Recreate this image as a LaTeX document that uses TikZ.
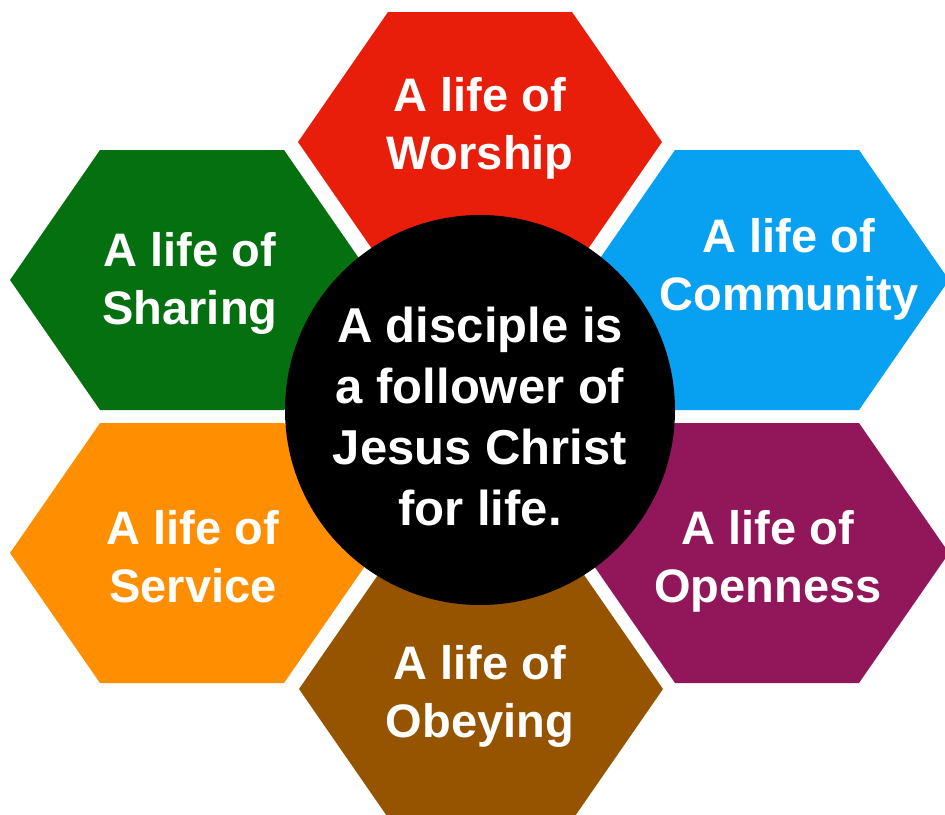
\documentclass[tikz,border=0pt]{standalone}
\usepackage{fontspec}
\setsansfont{Liberation Sans}
\usetikzlibrary{positioning}

\definecolor{worshipred}{RGB}{232,30,10}
\definecolor{sharinggreen}{RGB}{4,112,16}
\definecolor{communityblue}{RGB}{8,160,240}
\definecolor{serviceorange}{RGB}{255,142,0}
\definecolor{opennesspurple}{RGB}{146,22,90}
\definecolor{obeyingbrown}{RGB}{150,84,0}

\tikzset{
  lifetext/.style={text=white, font=\sffamily\bfseries\fontsize{47}{58}\selectfont,
    align=center, inner sep=0pt},
  centretext/.style={text=white, font=\sffamily\bfseries\fontsize{49}{61}\selectfont,
    align=center, inner sep=0pt}
}

\begin{document}
\begin{tikzpicture}[x=1pt,y=-1pt]
            \clip (0,0) rectangle (945,814);
            % Top: Worship
            \fill[worshipred] (298,142) -- ++(90,-130) -- ++(184,0) -- ++(90,130) -- ++(-90,130) -- ++(-184,0) -- cycle;
            % Upper left: Sharing
            \fill[sharinggreen] (10,280) -- ++(90,-130) -- ++(184,0) -- ++(90,130) -- ++(-90,130) -- ++(-184,0) -- cycle;
            % Upper right: Community
            \fill[communityblue] (585,280) -- ++(90,-130) -- ++(184,0) -- ++(90,130) -- ++(-90,130) -- ++(-184,0) -- cycle;
            % Lower left: Service
            \fill[serviceorange] (10,553) -- ++(90,-130) -- ++(184,0) -- ++(90,130) -- ++(-90,130) -- ++(-184,0) -- cycle;
            % Lower right: Openness
            \fill[opennesspurple] (585,553) -- ++(90,-130) -- ++(184,0) -- ++(90,130) -- ++(-90,130) -- ++(-184,0) -- cycle;
            % Bottom: Obeying
            \fill[obeyingbrown] (299,689) -- ++(90,-130) -- ++(184,0) -- ++(90,130) -- ++(-90,130) -- ++(-184,0) -- cycle;
            % Labels
            \node[lifetext] (worship) at (480,128) {A life of\\Worship};
            \node[lifetext] (sharing) at (190,283) {A life of\\Sharing};
            \node[lifetext] (community) at (789,269) {A life of\\Community};
            \node[lifetext] (service) at (193,557) {A life of\\Service};
            \node[lifetext] (openness) at (768,561) {A life of\\Openness};
            \node[lifetext] (obeying) at (480,696) {A life of\\Obeying};
            % Centre
            \node[circle, fill=black, minimum size=390pt, inner sep=0pt] (disciple) at (480,410) {};
            \node[centretext] (disciplelabel) at (480,416) {A disciple is\\a follower of\\Jesus Christ\\for life.};
\end{tikzpicture}
\end{document}
